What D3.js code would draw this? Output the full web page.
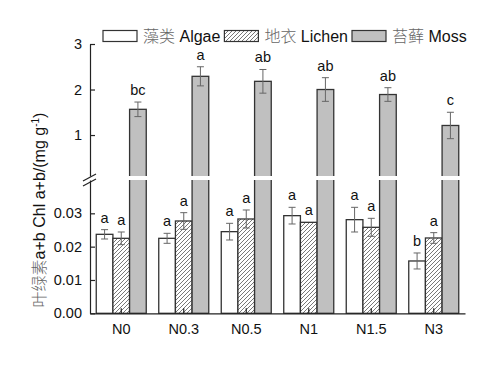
<!DOCTYPE html>
<html>
<head>
<meta charset="utf-8">
<script src="https://cdn.jsdelivr.net/npm/d3@7"></script>
<style>
  body { margin: 0; background: #fff; }
  text { font-family: "Liberation Sans", Arial, sans-serif; }
</style>
</head>
<body>
<div id="chart"></div>
<script>
// treatments and values
var groups = ['N0', 'N0.3', 'N0.5', 'N1', 'N1.5', 'N3'];
var algae = [0.0237, 0.0225, 0.0245, 0.0293, 0.0281, 0.0157];
var algaeErr = [0.0014, 0.0015, 0.0025, 0.0025, 0.0037, 0.0024];
var lichen = [0.0225, 0.0277, 0.0283, 0.0273, 0.0258, 0.0226];
var lichenErr = [0.0019, 0.0025, 0.0027, 0, 0.0027, 0.0016];
var moss = [1.565, 2.29, 2.18, 2.0, 1.89, 1.21];
var mossErr = [0.16, 0.21, 0.26, 0.26, 0.15, 0.29];
var algaeSig = ['a', 'a', 'a', 'a', 'a', 'b'];
var lichenSig = ['a', 'a', 'a', 'a', 'a', 'a'];
var mossSig = ['bc', 'a', 'ab', 'ab', 'ab', 'c'];
var lowTicks = [0, 0.01, 0.02, 0.03];
var highTicks = [1, 2, 3];
var seriesNames = [
    { key: 'algae', zh: '藻类', en: 'Algae' },
    { key: 'lichen', zh: '地衣', en: 'Lichen' },
    { key: 'moss', zh: '苔藓', en: 'Moss' }
];

var width = 500, height = 375;
var left = 90, right = 465, bottom = 313.3;

var svg = d3.select('#chart').append('svg')
    .attr('width', width)
    .attr('height', height);

var defs = svg.append('defs');
defs.append('pattern')
    .attr('id', 'hatch')
    .attr('patternUnits', 'userSpaceOnUse')
    .attr('width', 4).attr('height', 4)
    .call(function (p) {
        p.append('rect').attr('width', 4).attr('height', 4).attr('fill', '#fff');
        p.append('path')
            .attr('d', 'M-1,1 l2,-2 M0,4 l4,-4 M3,5 l2,-2')
            .attr('stroke', '#555')
            .attr('stroke-width', 0.8);
    });

var fills = { algae: '#fff', lichen: 'url(#hatch)', moss: '#c0c0c0' };

// scales: broken y axis, lower part for algae/lichen, upper part for moss
var x0 = d3.scaleBand().domain(groups).range([left, right])
    .paddingInner(0.2).paddingOuter(0.1);
var x1 = d3.scaleBand().domain(['algae', 'lichen', 'moss']).range([0, x0.bandwidth()]);
var yLow = d3.scaleLinear().domain([0, 0.04]).range([bottom, 180]);
var yHigh = d3.scaleLinear().domain([0.1, 3]).range([176, 44]);

var rows = groups.map(function (g, i) {
    return [
        { g: g, key: 'algae', v: algae[i], e: algaeErr[i], sig: algaeSig[i], y: yLow },
        { g: g, key: 'lichen', v: lichen[i], e: lichenErr[i], sig: lichenSig[i], y: yLow },
        { g: g, key: 'moss', v: moss[i], e: mossErr[i], sig: mossSig[i], y: yHigh }
    ];
});
var flat = d3.merge(rows);

function cx(d) { return x0(d.g) + x1(d.key) + x1.bandwidth() / 2; }

// bars
svg.append('g').selectAll('rect')
    .data(flat)
    .enter().append('rect')
    .attr('x', function (d) { return x0(d.g) + x1(d.key); })
    .attr('y', function (d) { return d.y(d.v); })
    .attr('width', x1.bandwidth())
    .attr('height', function (d) { return yLow(0) - d.y(d.v); })
    .attr('fill', function (d) { return fills[d.key]; })
    .attr('stroke', '#333')
    .attr('stroke-width', 1.3);

// break gap
svg.append('rect')
    .attr('x', left - 2).attr('y', yHigh(0.1))
    .attr('width', right - left + 4).attr('height', yLow(0.04) - yHigh(0.1))
    .attr('fill', '#fff');

// axes
var axisColor = '#222';
var gx = svg.append('g')
    .attr('transform', 'translate(0,' + bottom + ')')
    .call(d3.axisBottom(x0).tickSizeInner(-5).tickSizeOuter(0).tickPadding(10));
var gyLow = svg.append('g')
    .attr('transform', 'translate(' + left + ',0)')
    .call(d3.axisLeft(yLow).tickValues(lowTicks).tickFormat(d3.format('.2f'))
        .tickSizeInner(-5).tickSizeOuter(0).tickPadding(8));
var gyHigh = svg.append('g')
    .attr('transform', 'translate(' + left + ',0)')
    .call(d3.axisLeft(yHigh).tickValues(highTicks).tickFormat(d3.format('d'))
        .tickSizeInner(-5).tickSizeOuter(0).tickPadding(8));

[gx, gyLow, gyHigh].forEach(function (g) {
    g.selectAll('.domain, .tick line').attr('stroke', axisColor).attr('stroke-width', 1.2);
    g.selectAll('.tick text')
        .attr('fill', '#111')
        .style('font-size', '14.5px')
        .style('font-family', '"Liberation Sans", Arial, sans-serif');
});

// break marks
svg.append('g').selectAll('line')
    .data([0, 5])
    .enter().append('line')
    .attr('x1', left - 7).attr('x2', left + 6)
    .attr('y1', function (d) { return 181 + d; })
    .attr('y2', function (d) { return 174 + d; })
    .attr('stroke', axisColor)
    .attr('stroke-width', 1.2);

// error bars
var eb = svg.append('g').attr('stroke', '#666').attr('stroke-width', 1);
flat.filter(function (d) { return d.e > 0; }).forEach(function (d) {
    var c = cx(d), t = d.y(d.v + d.e), b = d.y(d.v - d.e);
    eb.append('line').attr('x1', c).attr('x2', c).attr('y1', t).attr('y2', b);
    eb.append('line').attr('x1', c - 3.5).attr('x2', c + 3.5).attr('y1', t).attr('y2', t);
    eb.append('line').attr('x1', c - 3.5).attr('x2', c + 3.5).attr('y1', b).attr('y2', b);
});

// significance letters
svg.append('g').selectAll('text')
    .data(flat)
    .enter().append('text')
    .attr('x', cx)
    .attr('y', function (d) { return d.y(d.v + d.e) - 7; })
    .attr('text-anchor', 'middle')
    .attr('fill', '#111')
    .style('font-size', '14.5px')
    .text(function (d) { return d.sig; });

// legend
var legend = svg.append('g').attr('transform', 'translate(103,36)');
var lx = 0;
seriesNames.forEach(function (s) {
    legend.append('rect')
        .attr('x', lx).attr('y', -5.5)
        .attr('width', 34).attr('height', 11)
        .attr('fill', fills[s.key])
        .attr('stroke', '#333')
        .attr('stroke-width', 1.2);
    var t = legend.append('text')
        .attr('x', lx + 40).attr('y', 0)
        .attr('dy', '0.35em')
        .style('font-size', '16px');
    t.append('tspan').text(s.zh)
        .attr('fill', '#666')
        .style('font-family', '"Noto Sans CJK SC", sans-serif')
        .style('font-weight', 300);
    t.append('tspan').text(' ' + s.en).attr('fill', '#111');
    lx += 40 + t.node().getComputedTextLength() + 4;
});

// y label
var yl = svg.append('text')
    .attr('transform', 'translate(45,210) rotate(-90)')
    .attr('text-anchor', 'middle')
    .attr('fill', '#111')
    .style('font-size', '16px');
yl.append('tspan').text('叶绿素')
    .attr('fill', '#666')
    .style('font-family', '"Noto Sans CJK SC", sans-serif')
    .style('font-weight', 300);
yl.append('tspan').text('a+b Chl a+b/(mg g');
yl.append('tspan').text('-1').attr('dy', -6).style('font-size', '10px');
yl.append('tspan').text(')').attr('dy', 6);
</script>
</body>
</html>
